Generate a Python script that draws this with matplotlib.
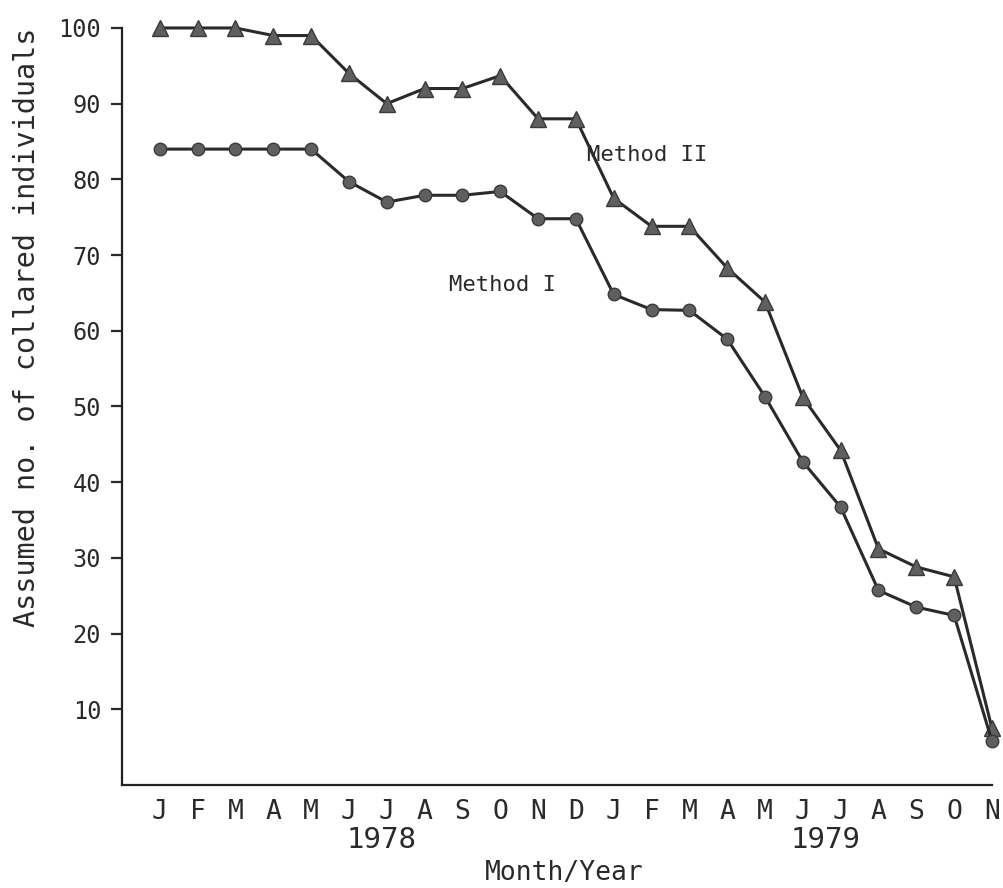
import matplotlib
matplotlib.use("Agg")
import matplotlib.pyplot as plt
import numpy as np

plt.rcParams["font.family"] = "DejaVu Sans Mono"

# monthly survey, Jan 1978 .. Nov 1979
months = ["J", "F", "M", "A", "M", "J", "J", "A", "S", "O", "N", "D",
          "J", "F", "M", "A", "M", "J", "J", "A", "S", "O", "N"]
method_2 = [100, 100, 100, 99, 99, 94, 90, 92, 92, 93.7, 88, 88,
            77.5, 73.8, 73.8, 68.3, 63.8, 51.2, 44.2, 31.2, 28.8, 27.5, 7.5]
method_1 = [84, 84, 84, 84, 84, 79.7, 77, 77.9, 77.9, 78.4, 74.8, 74.8,
            64.8, 62.8, 62.7, 58.9, 51.3, 42.7, 36.7, 25.7, 23.5, 22.4, 5.8]
y_ticks = [10, 20, 30, 40, 50, 60, 70, 80, 90, 100]

x = np.arange(len(months))
line_col = "#2a2a2a"
fill_col = "#5f5f5f"
text_col = "#2a2a2a"

fig = plt.figure(figsize=(10.04, 8.88), dpi=100)
ax = fig.add_axes([0.1215, 0.116, 0.8665, 0.8525])

ax.plot(x, method_2, color=line_col, lw=2.2, marker="^", ms=11,
        mfc=fill_col, mec="#3a3a3a", mew=1.0, clip_on=False, zorder=3)
ax.plot(x, method_1, color=line_col, lw=2.2, marker="o", ms=9,
        mfc=fill_col, mec="#3a3a3a", mew=1.0, clip_on=False, zorder=3)

ax.text(11.3, 83.2, "Method II", fontsize=16, va="center", ha="left",
        color=text_col)
ax.text(7.65, 66.1, "Method I", fontsize=16, va="center", ha="left",
        color=text_col)

ax.set_xlim(-1, 21.85)
ax.set_ylim(0, 100)
ax.set_xticks(x)
ax.set_xticklabels(months)
ax.set_yticks(y_ticks)

for s in ["top", "right"]:
    ax.spines[s].set_visible(False)
for s in ["left", "bottom"]:
    ax.spines[s].set_linewidth(1.6)
    ax.spines[s].set_color("#222222")

ax.tick_params(axis="x", length=0, pad=10, labelsize=19, colors=text_col)
ax.tick_params(axis="y", length=8, width=1.6, pad=7, labelsize=17,
               colors=text_col)

# year captions under the month letters
ax.text(5.85, -0.073, "1978", transform=ax.get_xaxis_transform(),
        fontsize=21, ha="center", va="center", color=text_col)
ax.text(17.6, -0.073, "1979", transform=ax.get_xaxis_transform(),
        fontsize=21, ha="center", va="center", color=text_col)

ax.set_xlabel("Month/Year", fontsize=19, color=text_col)
ax.xaxis.set_label_coords(0.508, -0.116)
ax.xaxis.label.set_va("center")
ax.set_ylabel("Assumed no. of collared individuals", fontsize=20.5,
              color=text_col)
ax.yaxis.set_label_coords(-0.109, 0.604)
ax.yaxis.label.set_va("center")

fig.savefig("out.png", dpi=100)
